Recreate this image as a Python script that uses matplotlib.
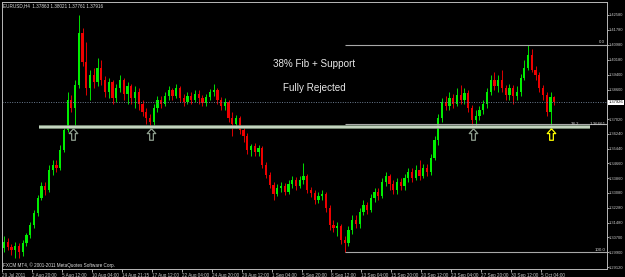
import numpy as np
import matplotlib
matplotlib.use("Agg")
import matplotlib.pyplot as plt
from matplotlib.path import Path

# EURUSD H4 candles (one candle per ~2 H4 bars)
opens = [1.3014, 1.3046, 1.3019, 1.3003, 1.3024, 1.2992, 1.3040, 1.3083, 1.3136, 1.3201,
         1.3281, 1.3345, 1.3323, 1.3430, 1.3457, 1.3441, 1.3537, 1.3644, 1.3804, 1.3761,
         1.3884, 1.4162, 1.4007, 1.3868, 1.3938, 1.3900, 1.3975, 1.3911, 1.3847, 1.3900,
         1.3815, 1.3868, 1.3911, 1.3836, 1.3879, 1.3815, 1.3847, 1.3783, 1.3740, 1.3708,
         1.3687, 1.3761, 1.3804, 1.3783, 1.3825, 1.3857, 1.3825, 1.3868, 1.3815, 1.3793,
         1.3825, 1.3804, 1.3836, 1.3815, 1.3788, 1.3820, 1.3847, 1.3857, 1.3804, 1.3772,
         1.3793, 1.3708, 1.3676, 1.3708, 1.3644, 1.3612, 1.3537, 1.3558, 1.3526, 1.3548,
         1.3457, 1.3403, 1.3350, 1.3302, 1.3334, 1.3345, 1.3313, 1.3355, 1.3377, 1.3345,
         1.3377, 1.3398, 1.3323, 1.3307, 1.3270, 1.3291, 1.3302, 1.3227, 1.3136, 1.3121,
         1.3131, 1.3056, 1.3040, 1.3110, 1.3163, 1.3142, 1.3206, 1.3243, 1.3217, 1.3281,
         1.3313, 1.3291, 1.3366, 1.3398, 1.3355, 1.3323, 1.3366, 1.3345, 1.3387, 1.3419,
         1.3387, 1.3430, 1.3398, 1.3441, 1.3419, 1.3494, 1.3590, 1.3708, 1.3793, 1.3772,
         1.3815, 1.3783, 1.3831, 1.3804, 1.3841, 1.3761, 1.3697, 1.3719, 1.3751, 1.3783,
         1.3847, 1.3911, 1.3879, 1.3911, 1.3868, 1.3831, 1.3868, 1.3825, 1.3847, 1.3922,
         1.3975, 1.4044, 1.3964, 1.3938, 1.3868, 1.3831, 1.3740, 1.3820]
highs = [1.3078, 1.3067, 1.3035, 1.3046, 1.3040, 1.3056, 1.3094, 1.3152, 1.3217, 1.3297,
         1.3366, 1.3366, 1.3457, 1.3484, 1.3484, 1.3564, 1.3655, 1.3847, 1.3831, 1.3911,
         1.4258, 1.4189, 1.4114, 1.3964, 1.3975, 1.4028, 1.4018, 1.3932, 1.3922, 1.3911,
         1.3889, 1.3938, 1.3922, 1.3900, 1.3889, 1.3879, 1.3868, 1.3804, 1.3761, 1.3729,
         1.3783, 1.3825, 1.3825, 1.3847, 1.3879, 1.3868, 1.3889, 1.3879, 1.3836, 1.3847,
         1.3847, 1.3857, 1.3857, 1.3831, 1.3836, 1.3863, 1.3889, 1.3868, 1.3820, 1.3815,
         1.3804, 1.3740, 1.3724, 1.3719, 1.3665, 1.3628, 1.3569, 1.3574, 1.3564, 1.3558,
         1.3473, 1.3419, 1.3366, 1.3355, 1.3366, 1.3361, 1.3377, 1.3398, 1.3393, 1.3398,
         1.3468, 1.3409, 1.3339, 1.3323, 1.3313, 1.3323, 1.3313, 1.3243, 1.3163, 1.3152,
         1.3142, 1.3078, 1.3131, 1.3190, 1.3190, 1.3227, 1.3270, 1.3259, 1.3302, 1.3334,
         1.3334, 1.3387, 1.3419, 1.3409, 1.3377, 1.3387, 1.3387, 1.3409, 1.3441, 1.3441,
         1.3457, 1.3484, 1.3462, 1.3462, 1.3516, 1.3612, 1.3729, 1.3815, 1.3825, 1.3847,
         1.3836, 1.3868, 1.3884, 1.3868, 1.3857, 1.3777, 1.3751, 1.3772, 1.3804, 1.3868,
         1.3938, 1.3954, 1.3938, 1.3964, 1.3884, 1.3889, 1.3884, 1.3879, 1.3943, 1.4018,
         1.4098, 1.4076, 1.3986, 1.3954, 1.3884, 1.3847, 1.3847, 1.3825]
lows = [1.2992, 1.3003, 1.2976, 1.2960, 1.2960, 1.2971, 1.3024, 1.3067, 1.3121, 1.3185,
        1.3270, 1.3297, 1.3313, 1.3403, 1.3419, 1.3430, 1.3526, 1.3633, 1.3740, 1.3660,
        1.3868, 1.3986, 1.3831, 1.3804, 1.3868, 1.3879, 1.3884, 1.3820, 1.3815, 1.3783,
        1.3793, 1.3847, 1.3804, 1.3783, 1.3783, 1.3761, 1.3751, 1.3719, 1.3676, 1.3655,
        1.3670, 1.3740, 1.3761, 1.3772, 1.3804, 1.3804, 1.3815, 1.3793, 1.3772, 1.3783,
        1.3783, 1.3793, 1.3783, 1.3772, 1.3772, 1.3804, 1.3825, 1.3783, 1.3751, 1.3751,
        1.3687, 1.3612, 1.3655, 1.3622, 1.3580, 1.3516, 1.3505, 1.3505, 1.3505, 1.3441,
        1.3387, 1.3334, 1.3270, 1.3291, 1.3313, 1.3297, 1.3302, 1.3334, 1.3323, 1.3334,
        1.3355, 1.3307, 1.3286, 1.3249, 1.3254, 1.3270, 1.3206, 1.3110, 1.3099, 1.3078,
        1.3035, 1.2990, 1.3024, 1.3088, 1.3121, 1.3121, 1.3190, 1.3195, 1.3206, 1.3259,
        1.3270, 1.3281, 1.3345, 1.3323, 1.3302, 1.3302, 1.3323, 1.3323, 1.3366, 1.3366,
        1.3377, 1.3377, 1.3387, 1.3398, 1.3403, 1.3484, 1.3564, 1.3687, 1.3751, 1.3751,
        1.3761, 1.3772, 1.3783, 1.3783, 1.3740, 1.3655, 1.3660, 1.3697, 1.3729, 1.3761,
        1.3831, 1.3857, 1.3847, 1.3847, 1.3804, 1.3804, 1.3783, 1.3804, 1.3825, 1.3911,
        1.3964, 1.3954, 1.3911, 1.3847, 1.3804, 1.3719, 1.3655, 1.3777]
closes = [1.3046, 1.3019, 1.3003, 1.3024, 1.2992, 1.3040, 1.3083, 1.3136, 1.3201, 1.3281,
          1.3345, 1.3323, 1.3430, 1.3457, 1.3441, 1.3537, 1.3644, 1.3804, 1.3761, 1.3884,
          1.4162, 1.4007, 1.3868, 1.3938, 1.3900, 1.3975, 1.3911, 1.3847, 1.3900, 1.3815,
          1.3868, 1.3911, 1.3836, 1.3879, 1.3815, 1.3847, 1.3783, 1.3740, 1.3708, 1.3687,
          1.3761, 1.3804, 1.3783, 1.3825, 1.3857, 1.3825, 1.3868, 1.3815, 1.3793, 1.3825,
          1.3804, 1.3836, 1.3815, 1.3788, 1.3820, 1.3847, 1.3857, 1.3804, 1.3772, 1.3793,
          1.3708, 1.3676, 1.3708, 1.3644, 1.3612, 1.3537, 1.3558, 1.3526, 1.3548, 1.3457,
          1.3403, 1.3350, 1.3302, 1.3334, 1.3345, 1.3313, 1.3355, 1.3377, 1.3345, 1.3377,
          1.3398, 1.3323, 1.3307, 1.3270, 1.3291, 1.3302, 1.3227, 1.3136, 1.3121, 1.3131,
          1.3056, 1.3040, 1.3110, 1.3163, 1.3142, 1.3206, 1.3243, 1.3217, 1.3281, 1.3313,
          1.3291, 1.3366, 1.3398, 1.3355, 1.3323, 1.3366, 1.3345, 1.3387, 1.3419, 1.3387,
          1.3430, 1.3398, 1.3441, 1.3419, 1.3494, 1.3590, 1.3708, 1.3793, 1.3772, 1.3815,
          1.3783, 1.3831, 1.3804, 1.3841, 1.3761, 1.3697, 1.3719, 1.3751, 1.3783, 1.3847,
          1.3911, 1.3879, 1.3911, 1.3868, 1.3831, 1.3868, 1.3825, 1.3847, 1.3922, 1.3975,
          1.4044, 1.3964, 1.3938, 1.3868, 1.3831, 1.3740, 1.3820, 1.37916]

date_labels = ["29 Jul 2011", "2 Aug 20:00", "5 Aug 12:00", "10 Aug 04:00", "14 Aug 21:15",
               "17 Aug 12:00", "22 Aug 04:00", "24 Aug 20:00", "29 Aug 12:00", "1 Sep 04:00",
               "5 Sep 20:00", "8 Sep 12:00", "13 Sep 04:00", "15 Sep 20:00", "20 Sep 12:00",
               "23 Sep 04:00", "27 Sep 20:00", "30 Sep 12:00", "5 Oct 04:00"]
price_ticks = [1.42580, 1.41780, 1.40980, 1.40180, 1.39400, 1.38600, 1.37020, 1.36240,
               1.35440, 1.34660, 1.33860, 1.33080, 1.32280, 1.31480, 1.30700, 1.29900, 1.29120]
bid = 1.37926
support = 1.3658
fib_levels = [0.0, 38.2, 100.0]
fib_high, fib_low = 1.40980, 1.29900
fib_start = 91
support_span = (9.3, 156.5)
touch_idx = [18.4, 39.2, 125.3, 146.1]
touch_col = ['#8e9e8e', '#8e9e8e', '#8e9e8e', '#ffff00']

o = np.array(opens); h = np.array(highs); l = np.array(lows); c = np.array(closes)
x = np.arange(len(c))
up = c >= o
cols = np.where(up, '#00ee00', '#ee0000')

fig = plt.figure(figsize=(6.25, 2.77), dpi=100, facecolor='black')
ax = fig.add_axes([2/625, 8/277, 605/625, 267/277], facecolor='black')

ax.vlines(x, l, h, colors=cols, linewidth=0.65)
ax.bar(x, np.maximum(np.abs(c - o), 0.0002), bottom=np.minimum(o, c), width=0.6,
       color=cols, linewidth=0)

# bid line
ax.axhline(bid, color='#6c7c90', lw=0.7, ls=(0, (1, 1.5)))

# fib lines
rng = fib_high - fib_low
for lev in fib_levels:
    yv = fib_high - rng * lev / 100
    ax.hlines(yv, fib_start, 161.1, color='#a8a8a8', lw=0.8)
small = dict(color='#d0d0d0', fontsize=3.2, va='bottom', family='Liberation Sans')
ax.text(160.4, fib_high + 0.0006, "0.0", ha='right', **small)
ax.text(152.5, support + 0.0009, "38.2", ha='center', **small)
ax.text(160.8, support + 0.0009, "1.36661", ha='right', **small)
ax.text(160.8, fib_low + 0.0004, "100.0", ha='right', **small)

# support line
ax.hlines(support, *support_span, color='#8aa088', lw=2.6, zorder=4)
ax.hlines(support, *support_span, color='#cfdfcb', lw=1.2, zorder=5)

# touch arrows
arrow = Path([(0, 0.5), (0.37, 0.08), (0.16, 0.08), (0.16, -0.5), (-0.16, -0.5),
              (-0.16, 0.08), (-0.37, 0.08), (0, 0.5)])
for xi, col in zip(touch_idx, touch_col):
    ax.plot(xi, support - 0.0034, marker=arrow, markersize=8.3, mfc='none', mec=col,
            mew=0.9, zorder=6)

ax.text(0.516, 0.768, "38% Fib + Support", transform=ax.transAxes, color='#e8e8e8',
        fontsize=7.1, ha='center', va='center', family='Liberation Sans')
ax.text(0.516, 0.678, "Fully Rejected", transform=ax.transAxes, color='#e8e8e8',
        fontsize=7.1, ha='center', va='center', family='Liberation Sans')
ax.text(0.002, 0.987, "EURUSD,H4  1.37863 1.38021 1.37761 1.37916", transform=ax.transAxes,
        color='#e0e0e0', fontsize=3.3, ha='left', va='center', family='Liberation Sans')
ax.text(0.002, 0.015, "FXCM MT4, \u00a9 2001-2011 MetaQuotes Software Corp.", transform=ax.transAxes,
        color='#e0e0e0', fontsize=3.3, ha='left', va='center', family='Liberation Sans')

ax.set_xlim(-0.27, 161.07)
ax.set_ylim(1.29015, 1.43273)

ax.yaxis.tick_right()
ax.set_yticks(price_ticks)
ax.set_yticklabels([f"{p:.5f}" for p in price_ticks])
ax.set_xticks([8 * k - 0.53 for k in range(len(date_labels))])
ax.set_xticklabels(date_labels)
for t in ax.get_xticklabels():
    t.set_ha('left')
ax.tick_params(axis='x', colors='#c8c8c8', labelsize=3.3, length=2, width=0.6, pad=0.6)
ax.tick_params(axis='y', colors='#c8c8c8', labelsize=2.9, length=1.2, width=0.6, pad=0.3)
for t in ax.get_xticklabels() + ax.get_yticklabels():
    t.set_family('Liberation Sans')

ax.text(1.0025, (bid - 1.29015) / (1.43273 - 1.29015), "1.37926", transform=ax.transAxes,
        color='black', fontsize=2.9, ha='left', va='center', family='Liberation Sans',
        bbox=dict(boxstyle='square,pad=0.12', fc='white', ec='none'), clip_on=False)

for s in ax.spines.values():
    s.set_color('#b8b8b8')
    s.set_linewidth(0.7)

fig.savefig('out.png', dpi=100, facecolor='black')
